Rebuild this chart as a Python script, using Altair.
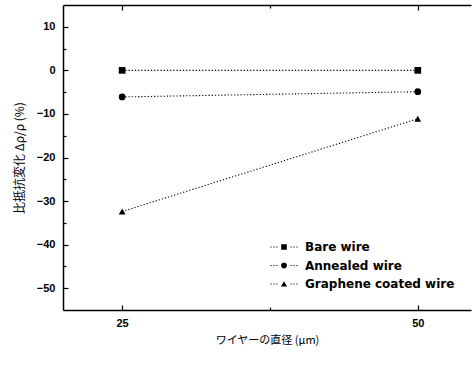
import altair as alt
import pandas as pd

# ---- data ----
diameters = [25, 50]
bare = [0.0, 0.0]
annealed = [-6.1, -4.9]
graphene = [-32.4, -11.1]
series = ["Bare wire", "Annealed wire", "Graphene coated wire"]
x_ticks = [25, 50]
x_minor = [37.5]
y_ticks = [-50, -40, -30, -20, -10, 0, 10]
y_minor = [-45, -35, -25, -15, -5, 5]

rows = []
for name, vals in zip(series, [bare, annealed, graphene]):
    for d, v in zip(diameters, vals):
        rows.append({"diameter": d, "change": v, "wire": name})
df = pd.DataFrame(rows)

W, H = 408, 305
xs = alt.Scale(domain=[20, 54.5], nice=False, zero=False)
ys = alt.Scale(domain=[-55, 15], nice=False, zero=False)


def tick_axis(orient, offset, values, size, domain=False):
    # axis moved onto the opposite edge so its ticks point into the plot
    return alt.Axis(orient=orient, offset=offset, values=values, ticks=True,
                    tickSize=size, tickColor="black", tickWidth=1.2,
                    labels=False, domain=domain, domainColor="black",
                    domainWidth=1.5, title=None, grid=False)


main_x = alt.Axis(values=x_ticks, ticks=False, tickSize=0, labelPadding=7,
                  domain=True, domainColor="black", domainWidth=1.5,
                  labelFont="Liberation Sans", labelFontWeight="bold",
                  labelFontSize=11, labelColor="black", labelFlush=False,
                  title="ワイヤーの直径 (μm)", titleFont="Noto Sans CJK JP",
                  titleFontSize=11, titleFontWeight="normal", titlePadding=6,
                  titleColor="black", grid=False)
main_y = alt.Axis(values=y_ticks, ticks=False, tickSize=0, labelPadding=8,
                  domain=True, domainColor="black", domainWidth=1.5,
                  labelFont="Liberation Sans", labelFontWeight="bold",
                  labelFontSize=11, labelColor="black", labelFlush=False,
                  title="比抵抗変化 Δρ/ρ (%)", titleFont="Noto Sans CJK JP",
                  titleFontSize=12, titleFontWeight="normal", titlePadding=10,
                  titleColor="black", grid=False)


def enc(xaxis, yaxis, **kw):
    return dict(x=alt.X("diameter:Q", scale=xs, axis=xaxis),
                y=alt.Y("change:Q", scale=ys, axis=yaxis), **kw)


lines = alt.Chart(df).mark_line(strokeDash=[1.2, 2], strokeWidth=1.1, color="black").encode(
    **enc(main_x, main_y, detail="wire:N"))

points = alt.Chart(df).mark_point(filled=True, color="black", opacity=1, size=45).encode(
    **enc(tick_axis("top", -H, x_ticks, 5), tick_axis("right", -W, y_ticks, 5),
          shape=alt.Shape("wire:N", legend=None,
                          scale=alt.Scale(domain=series, range=["square", "circle", "triangle-up"]))))

frame_top = alt.Chart(df).mark_point(opacity=0).encode(
    **enc(tick_axis("bottom", -H, x_ticks, 5, domain=True), tick_axis("right", -W, y_minor, 3)))

minor_x_bottom = alt.Chart(df).mark_point(opacity=0).encode(
    **enc(tick_axis("top", -H, x_minor, 3), None))

minor_x_top = alt.Chart(df).mark_point(opacity=0).encode(
    **enc(tick_axis("bottom", -H, x_minor, 3), None))


# legend symbols: dotted line segment with the marker in the middle
def sym(core):
    d = 0.04
    dots = "".join(f"M{x - d:.3f},{-d:.3f}h{2*d:.3f}v{2*d:.3f}h{-2*d:.3f}Z"
                   for x in [-0.93, -0.71, -0.5, 0.5, 0.71, 0.93])
    return dots + core


paths = [
    sym("M-0.2,-0.2H0.2V0.2H-0.2Z"),
    sym("M-0.21,0A0.21,0.21 0 1,0 0.21,0A0.21,0.21 0 1,0 -0.21,0Z"),
    sym("M0,-0.2L0.22,0.17H-0.22Z"),
]

legend_layer = alt.Chart(df).transform_filter("false").mark_point(
    filled=True, color="black", opacity=1).encode(
    shape=alt.Shape("wire:N", scale=alt.Scale(domain=series, range=paths),
                    legend=alt.Legend(title=None, orient="none", legendX=207, legendY=234,
                                      symbolSize=784, symbolStrokeWidth=0,
                                      symbolFillColor="black", clipHeight=16,
                                      rowPadding=2.5, labelOffset=7,
                                      labelFont="DejaVu Sans", labelFontWeight="bold",
                                      labelFontSize=12, labelColor="black")))

chart = alt.layer(lines, points, frame_top, minor_x_bottom, minor_x_top, legend_layer).resolve_scale(
    shape="independent").resolve_axis(x="independent", y="independent").properties(
    width=W, height=H,
    padding={"left": 63, "top": 5, "right": 2, "bottom": 55},
    autosize=alt.AutoSizeParams(type="none"),
    background="white",
).configure_view(strokeWidth=0).configure_axis(grid=False)

chart.save("out.html", embed_options={"renderer": "svg", "actions": False})
